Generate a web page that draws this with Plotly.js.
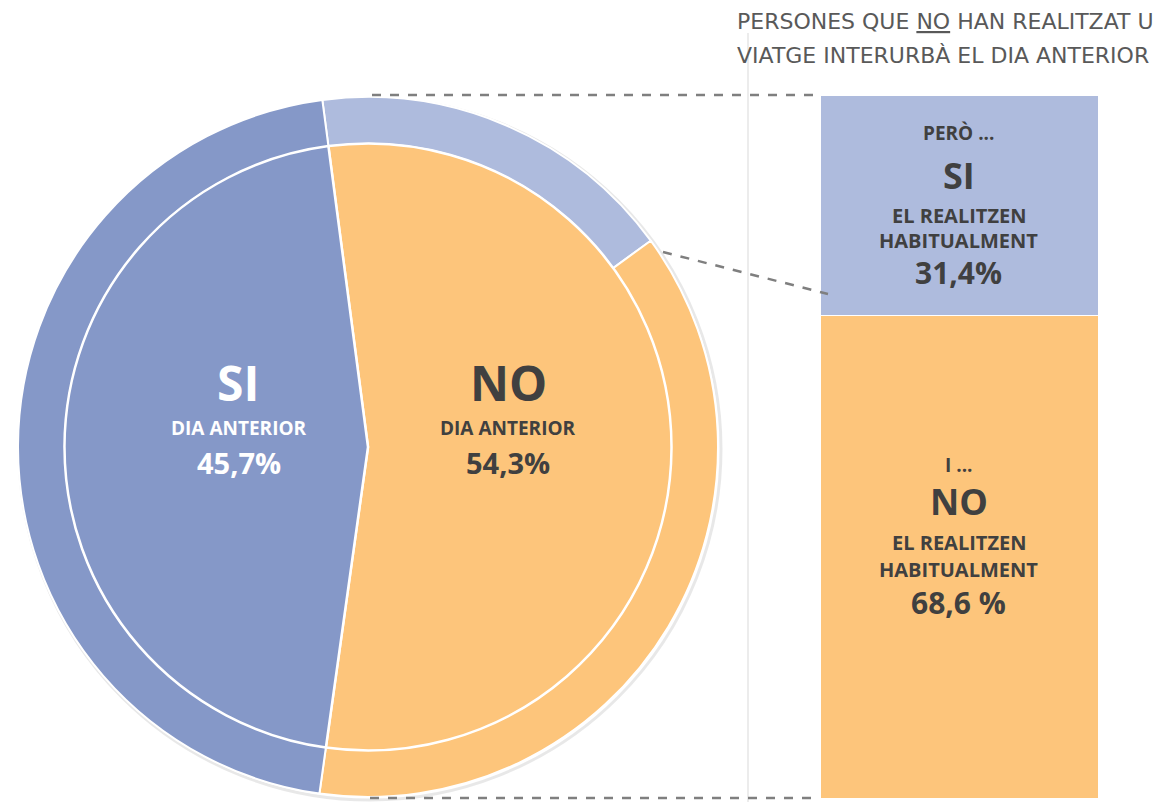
<!DOCTYPE html>
<html>
<head>
<meta charset="utf-8">
<script src="https://cdn.plot.ly/plotly-3.0.1.min.js"></script>
<style>html,body{margin:0;padding:0;background:#fff;}#chart{width:1153px;height:802px;}</style>
</head>
<body>
<div id="chart"></div>
<script>
// ---- data ----
const innerLabels = ['NO', 'SI'];            // viatge interurbà el dia anterior
const innerValues = [54.3, 45.7];
const barLabels = ['NO habitualment', 'SI habitualment']; // of those who did NOT travel
const barValues = [68.6, 31.4];
const titleLines = ['PERSONES QUE <u>NO</u> HAN REALITZAT U', 'VIATGE INTERURBÀ EL DIA ANTERIOR'];

// ---- colours ----
const BLUE = '#8598C8', LIGHTBLUE = '#AEBBDD', ORANGE = '#FDC57B', DARK = '#404040';
const FONT = '"Open Sans", sans-serif';

// outer ring: NO split into habitual SI / habitual NO, then SI
const outerLabels = ['NO · SI habitualment', 'NO · NO habitualment', 'SI'];
const outerValues = [innerValues[0] * barValues[1] / 100, innerValues[0] * barValues[0] / 100, innerValues[1]];

const W = 1153, H = 802;
const px = x => x / W, py = y => 1 - y / H;

const outer = {
  type: 'pie', labels: outerLabels, values: outerValues, sort: false,
  direction: 'clockwise', rotation: -7.5, hole: 0.866,
  marker: {colors: [LIGHTBLUE, ORANGE, BLUE], line: {color: '#fff', width: 2}},
  textinfo: 'none', hoverinfo: 'label+value', showlegend: false,
  domain: {x: [px(18), px(718)], y: [py(797), py(97)]}
};
const inner = {
  type: 'pie', labels: innerLabels, values: innerValues, sort: false,
  direction: 'clockwise', rotation: -7.5,
  marker: {colors: [ORANGE, BLUE], line: {color: '#fff', width: 2.5}},
  textinfo: 'none', hoverinfo: 'label+value', showlegend: false,
  domain: {x: [px(64.5), px(671.5)], y: [py(750.5), py(143.5)]}
};
const barNo = {
  type: 'bar', x: [''], y: [barValues[0]], name: barLabels[0],
  marker: {color: ORANGE, line: {color: '#fff', width: 1}}, showlegend: false, hoverinfo: 'y'
};
const barSi = {
  type: 'bar', x: [''], y: [barValues[1]], name: barLabels[1],
  marker: {color: LIGHTBLUE, line: {color: '#fff', width: 1}}, showlegend: false, hoverinfo: 'y'
};

function ann(text, x, y, size, color, bold, extra) {
  return Object.assign({
    text: bold ? '<b>' + text + '</b>' : text, x: x, y: y, xref: 'paper', yref: 'paper',
    showarrow: false, xanchor: 'center', yanchor: 'middle',
    font: {family: FONT, size: size, color: color}
  }, extra || {});
}

const topMid = barValues[0] + barValues[1] / 2;
const botMid = barValues[0] / 2;
function barAnn(text, ymid, shift, size) {
  return {
    text: '<b>' + text + '</b>', x: 0, y: ymid, xref: 'x', yref: 'y', yshift: shift,
    showarrow: false, xanchor: 'center', yanchor: 'middle',
    font: {family: FONT, size: size, color: DARK}
  };
}
const pct = v => v.toFixed(1).replace('.', ',');

const annotations = [
  ann(innerLabels[1], px(238), py(382), 48, '#fff', true),
  ann('DIA ANTERIOR', px(239), py(428), 19, '#fff', true),
  ann(pct(innerValues[1]) + '%', px(239), py(462), 29, '#fff', true),
  ann(innerLabels[0], px(508), py(382), 48, DARK, true),
  ann('DIA ANTERIOR', px(508), py(428), 19, DARK, true),
  ann(pct(innerValues[0]) + '%', px(508), py(462), 29, DARK, true),

  barAnn('PERÒ ...', topMid, 72, 19),
  barAnn('SI', topMid, 30, 36),
  barAnn('EL REALITZEN', topMid, -10, 20),
  barAnn('HABITUALMENT', topMid, -35, 20),
  barAnn(pct(barValues[1]) + '%', topMid, -67, 30),

  barAnn('I ...', botMid, 92, 19),
  barAnn('NO', botMid, 55, 36),
  barAnn('EL REALITZEN', botMid, 14, 20),
  barAnn('HABITUALMENT', botMid, -13, 20),
  barAnn(pct(barValues[0]) + ' %', botMid, -46, 30),

  {text: titleLines[0], x: px(735), y: py(22), xref: 'paper', yref: 'paper', showarrow: false,
   xanchor: 'left', yanchor: 'middle', font: {family: '"DejaVu Sans", sans-serif', size: 22, color: '#595959'}},
  {text: titleLines[1], x: px(735), y: py(55), xref: 'paper', yref: 'paper', showarrow: false,
   xanchor: 'left', yanchor: 'middle', font: {family: '"DejaVu Sans", sans-serif', size: 22, color: '#595959'}}
];

const dash = {color: '#7F7F7F', width: 2.5, dash: 'dash'};
const shapes = [
  {type: 'circle', xref: 'paper', yref: 'paper', layer: 'below', x0: px(19), x1: px(721), y0: py(800), y1: py(98),
   line: {color: 'rgba(0,0,0,0.09)', width: 3}},
  {type: 'line', xref: 'paper', yref: 'paper', x0: px(748), x1: px(748), y0: py(33), y1: 0, line: {color: '#D9D9D9', width: 1}},
  {type: 'line', xref: 'paper', yref: 'paper', x0: px(372), x1: px(820), y0: py(95), y1: py(95), line: dash},
  {type: 'line', xref: 'paper', yref: 'paper', x0: px(370), x1: px(820), y0: py(798), y1: py(798), line: dash},
  {type: 'line', xref: 'paper', yref: 'paper', x0: px(663), x1: px(828), y0: py(252), y1: py(294), line: dash}
];

const layout = {
  width: W, height: H, margin: {l: 0, r: 0, t: 0, b: 0},
  paper_bgcolor: '#fff', plot_bgcolor: 'rgba(0,0,0,0)',
  barmode: 'stack', bargap: 0,
  xaxis: {domain: [px(820), px(1098)], range: [-0.5, 0.5], visible: false, fixedrange: true},
  yaxis: {domain: [py(798), py(95)], range: [0, 100], visible: false, fixedrange: true},
  annotations: annotations, shapes: shapes, showlegend: false,
  font: {family: FONT}
};

Plotly.newPlot('chart', [barNo, barSi, outer, inner], layout, {displayModeBar: false, staticPlot: true});
</script>
</body>
</html>
